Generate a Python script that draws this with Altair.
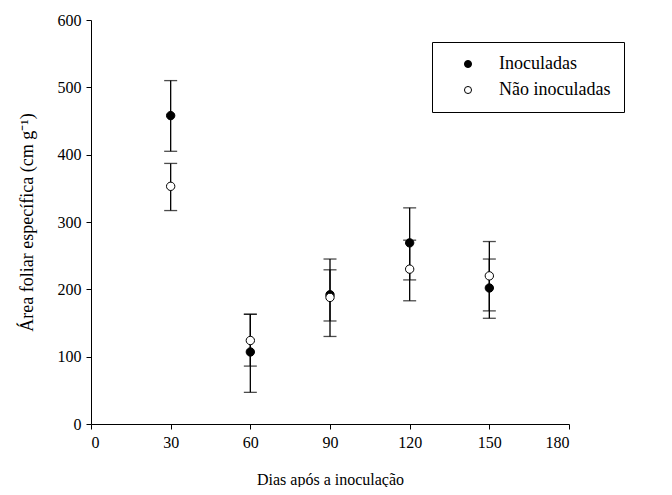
import altair as alt
import pandas as pd

days = [30, 60, 90, 120, 150]
inoc_mean = [458, 107, 192, 269, 202]
inoc_low = [405, 47, 153, 214, 157]
inoc_high = [510, 163, 229, 321, 245]
non_mean = [353, 124, 188, 230, 220]
non_low = [317, 86, 130, 183, 168]
non_high = [387, 163, 245, 273, 271]
series_names = ["Inoculadas", "Não inoculadas"]
x_ticks = [0, 30, 60, 90, 120, 150, 180]
y_ticks = [0, 100, 200, 300, 400, 500, 600]

rows = []
for name, m, lo, hi in [(series_names[0], inoc_mean, inoc_low, inoc_high),
                        (series_names[1], non_mean, non_low, non_high)]:
    for d, a, b, c in zip(days, m, lo, hi):
        rows.append({"dias": d, "serie": name, "media": a, "low": b, "high": c})
df = pd.DataFrame(rows)

FONT = "Liberation Serif"

xenc = alt.X("dias:Q", scale=alt.Scale(domain=[0, 180], nice=False),
             axis=alt.Axis(values=x_ticks, title="Dias após a inoculação",
                           titleY=55, titleBaseline="middle"))
base = alt.Chart(df)

bars = base.mark_rule(color="black", strokeWidth=1.3).encode(
    x=xenc,
    y=alt.Y("low:Q", scale=alt.Scale(domain=[0, 600], nice=False),
            axis=alt.Axis(values=y_ticks, title="Área foliar específica (cm g⁻¹)",
                          titleX=-64, titleY=202, titleAngle=-90, titleFontSize=18,
                          titleBaseline="middle", titleAlign="center")),
    y2="high:Q",
)
caps_lo = base.mark_tick(orient="horizontal", size=13, thickness=1.3, color="black").encode(
    x="dias:Q", y="low:Q")
caps_hi = base.mark_tick(orient="horizontal", size=13, thickness=1.3, color="black").encode(
    x="dias:Q", y="high:Q")
points = base.mark_circle(size=70, stroke="black", strokeWidth=1, opacity=1).encode(
    x="dias:Q", y="media:Q",
    fill=alt.Fill("serie:N", scale=alt.Scale(domain=series_names, range=["black", "white"]),
                  legend=alt.Legend(title=None, orient="none", legendX=341, legendY=22,
                                    strokeColor="black", fillColor="white", padding=13,
                                    symbolOffset=14, labelOffset=22, rowPadding=8,
                                    symbolType="circle", symbolSize=50,
                                    symbolStrokeColor="black", symbolStrokeWidth=1,
                                    labelFont=FONT, labelFontSize=18, labelColor="black")),
    order=alt.Order("serie:N"),
)

chart = alt.layer(bars, caps_lo, caps_hi, points).properties(
    width=478, height=404,
    autosize=alt.AutoSizeParams(type="none"),
    padding={"left": 83, "top": 12, "right": 95, "bottom": 63},
).configure_view(stroke=None).configure_axis(
    grid=False, domainColor="black", tickColor="black", domainWidth=1, tickWidth=1,
    tickSize=5, labelFont=FONT, labelFontSize=16, labelColor="black", labelPadding=5,
    titleFont=FONT, titleFontSize=16, titleFontWeight="normal", titleColor="black",
)

chart.save("out.html", embed_options={"renderer": "svg", "actions": False})
